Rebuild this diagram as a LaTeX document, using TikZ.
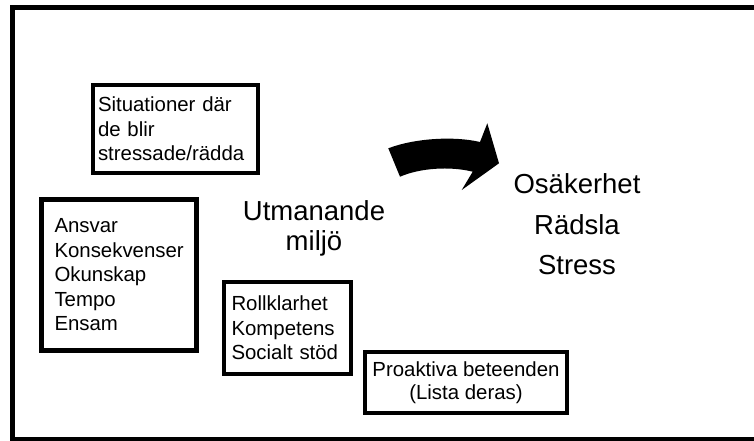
\documentclass[tikz,border=0pt]{standalone}
\usepackage{fontspec}
\setmainfont{Liberation Sans}
\hyphenpenalty=10000
\exhyphenpenalty=10000
\tikzset{
  listbox/.style={draw, line width=4.5pt, align=left, inner ysep=2pt,
    font=\fontsize{20.4}{24.5}\selectfont},
  bigtext/.style={align=center, inner sep=0pt,
    font=\fontsize{27.5}{30}\selectfont},
}
\begin{document}
\begin{tikzpicture}[x=1pt, y=-1pt]
  \useasboundingbox (0,0) rectangle (754,440);
  \clip (0,0) rectangle (754,440);
  \fill[white] (0,0) rectangle (754,440);

  % outer frame, running off the right edge
  \draw[line width=5pt] (12.5,7.5) rectangle (790,439.5);

  % boxes with their lists
  \node[listbox, text width=155pt, inner xsep=5pt, minimum height=88pt]
    (situationer) at (175.5,129) {Situationer där\\de blir\\stressade/rädda};
  \node[listbox, text width=129pt, inner xsep=13pt, minimum height=151pt]
    (krav) at (119,275) {Ansvar\\Konsekvenser\\Okunskap\\Tempo\\Ensam};
  \node[listbox, text width=112pt, inner xsep=7.5pt, minimum height=92pt]
    (resurser) at (287.5,328) {Rollklarhet\\Kompetens\\Socialt stöd};
  \node[listbox, align=center, minimum width=202pt, minimum height=61pt,
    font=\fontsize{20.4}{23.3}\selectfont]
    (proaktiva) at (466,382.5) {Proaktiva beteenden\\(Lista deras)};

  % central and resulting labels
  \node[bigtext] (miljo) at (314,228) {Utmanande\\miljö};
  \node[bigtext, font=\fontsize{27.5}{40.5}\selectfont]
    (utfall) at (577,224.5) {Osäkerhet\\Rädsla\\Stress};

  % curved block arrow
  \fill (388.3,148.3) .. controls (415,138) and (455,136) .. (480,142)
    -- (487.3,123.3) -- (499,163.3) -- (461.7,190) -- (472.7,171.7)
    .. controls (450,166) and (420,168) .. (400,176.7) -- cycle;
\end{tikzpicture}
\end{document}
